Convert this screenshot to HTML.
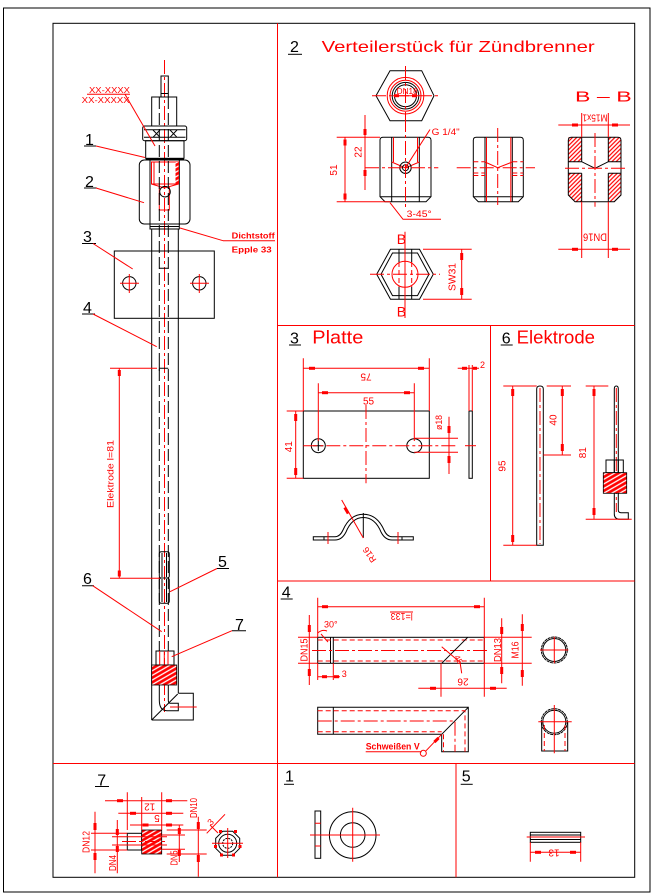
<!DOCTYPE html>
<html><head><meta charset="utf-8">
<style>
html,body{margin:0;padding:0;background:#fff;}
svg{display:block}
.k{stroke:#000;fill:none;stroke-width:1}
.r{stroke:#f00;fill:none;stroke-width:1}
.c{stroke:#f00;fill:none;stroke-width:1;stroke-dasharray:14 3 3 3}
.kd{stroke:#000;fill:none;stroke-width:1;stroke-dasharray:12 4}
.rd{stroke:#f00;fill:none;stroke-width:1;stroke-dasharray:5 3}
.a{fill:#f00;stroke:none}
text{font-family:"Liberation Sans",sans-serif;}
.t{fill:#f00}
.b{fill:#000}
</style></head><body>
<svg width="654" height="896" viewBox="0 0 654 896" xmlns="http://www.w3.org/2000/svg">
<defs>
<pattern id="h" width="4" height="4" patternUnits="userSpaceOnUse" patternTransform="rotate(60)">
<rect width="4" height="4" fill="#f00"/><line x1="1" y1="0" x2="1" y2="4" stroke="#fff" stroke-width="1.3"/>
</pattern>
<pattern id="h2" width="3" height="3" patternUnits="userSpaceOnUse" patternTransform="rotate(45)">
<rect width="3" height="3" fill="#fff"/><line x1="1" y1="0" x2="1" y2="3" stroke="#f00" stroke-width="1.2"/>
</pattern>
</defs>

<!-- frames -->
<rect x="3.5" y="8" width="646.5" height="884" class="k" stroke-width="1.3"/>
<rect x="53" y="23.3" width="581.7" height="854" class="k" stroke-width="1.3"/>
<g class="r">
<line x1="277.5" y1="23.3" x2="277.5" y2="877.3"/>
<line x1="53" y1="763.5" x2="634.7" y2="763.5"/>
<line x1="277.5" y1="325.5" x2="634.7" y2="325.5"/>
<line x1="490.5" y1="325.5" x2="490.5" y2="581"/>
<line x1="277.5" y1="581" x2="634.7" y2="581"/>
<line x1="456" y1="763.5" x2="456" y2="877.3"/>
</g>

<!-- ============ MAIN ASSEMBLY ============ -->
<line class="c" x1="164.5" y1="60" x2="164.5" y2="712"/>
<rect class="k" x="161" y="76" width="7.3" height="21"/>
<line class="k" x1="161" y1="93.5" x2="168.3" y2="93.5"/>
<rect class="k" x="151.7" y="97" width="25" height="29"/>
<rect class="k" x="142.7" y="126" width="44" height="14.7" rx="2"/>
<path class="k" d="M144 129.7 H185.5 M144 137.3 H185.5 M153 130 L160 137.3 M160 130 L153 137.3 M170 130 L177 137.3 M177 130 L170 137.3"/>
<rect class="k" x="145.7" y="140.7" width="38.3" height="17.6"/>
<rect x="145.7" y="158" width="38.3" height="2" fill="#000"/>
<rect class="k" x="139.3" y="160" width="50.7" height="64" rx="5"/>
<line class="k" x1="150" y1="160" x2="150" y2="224"/>
<line class="k" x1="179.3" y1="160" x2="179.3" y2="224"/>
<rect class="r" x="151.5" y="162" width="27" height="22"/>
<rect x="175.5" y="162" width="3" height="22" fill="url(#h)"/>
<line class="r" x1="154" y1="162" x2="154" y2="184"/>
<path class="r" d="M151.5 184 L164.5 188 L178.5 184"/>
<path class="r" d="M159.3 187 V210 H169.3 V187"/>
<circle class="k" cx="165" cy="191.7" r="5.3"/>
<rect class="k" x="150" y="224" width="29.3" height="5"/>
<line class="k" x1="150" y1="226.5" x2="179.3" y2="226.5" stroke-width="1.5"/>
<!-- tube -->
<line class="k" x1="151.7" y1="229" x2="151.7" y2="720"/>
<line class="k" x1="178.3" y1="229" x2="178.3" y2="693.3"/>
<line class="kd" x1="159.3" y1="97" x2="159.3" y2="651"/>
<line class="kd" x1="168.3" y1="97" x2="168.3" y2="651"/>
<!-- plate -->
<rect class="k" x="114.3" y="251" width="100" height="67.3"/>
<circle class="k" cx="129.3" cy="283.3" r="6.7"/>
<circle class="k" cx="199.3" cy="283.3" r="6.7"/>
<path class="r" d="M120 283.3 H139 M129.3 274 V293 M190 283.3 H209 M199.3 274 V293"/>
<path class="k" d="M159.3 268.3 H168.3 M159.3 365 V371 M159.3 368.3 H168.3"/>
<!-- part 5 -->
<rect class="k" x="159.3" y="551.7" width="10" height="26.3" rx="2"/>
<rect class="k" x="159.3" y="578" width="10" height="25.3" rx="2"/>
<path class="k" d="M162 553 V577 M166.5 553 V577 M162 579 V602 M166.5 579 V602"/>
<!-- part 7 -->
<rect class="k" x="156" y="651" width="18" height="14"/>
<path class="r" d="M159.7 651 V665 M164.3 651 V665 M168 651 V665"/>
<rect x="151.7" y="665" width="25" height="20" fill="url(#h)" stroke="#000" stroke-width="0.8"/>
<!-- bend -->
<path class="k" d="M178.3 693.3 H193.3 V720 H151.7 M151.7 720 L177.7 694"/>
<path class="k" d="M159.3 685 V700 Q159.3 710.7 167 710.7 H178.3 V703.3 H170 Q168.3 703.3 168.3 700 V685"/>
<line class="r" x1="170" y1="707" x2="196.7" y2="707"/>
<!-- Elektrode dim -->
<path class="r" d="M110 368.3 H157 M110 578.3 H160 M119.3 368.3 V578.3"/>
<rect class="a" x="117.8" y="370" width="3" height="6"/>
<rect class="a" x="117.8" y="570.5" width="3" height="6"/>
<text class="t" font-size="9.5" text-anchor="middle" textLength="68" lengthAdjust="spacingAndGlyphs" transform="translate(113.5,474) rotate(-90)">Elektrode l=81</text>
<!-- labels -->
<g class="b" font-size="16">
<text x="85" y="145">1</text>
<text x="85" y="187">2</text>
<text x="83" y="242">3</text>
<text x="83" y="313">4</text>
<text x="218" y="567">5</text>
<text x="83" y="584">6</text>
<text x="235" y="630">7</text>
</g>
<path class="k" d="M84 146 H96 M84 188 H97 M82 243.5 H96 M82 314 H95 M217 568.5 H229 M82 585.7 H94 M232 630.7 H246"/>
<g class="r">
<line x1="96" y1="146" x2="145" y2="157.5"/>
<line x1="96" y1="188" x2="144" y2="202.7"/>
<line x1="93" y1="243.5" x2="132.7" y2="269"/>
<line x1="93" y1="314" x2="156.7" y2="346.7"/>
<line x1="217" y1="568.5" x2="170" y2="591.7"/>
<line x1="92.7" y1="585.7" x2="161.7" y2="631.7"/>
<line x1="232" y1="630.7" x2="171.7" y2="656.7"/>
<line x1="125" y1="94.3" x2="155" y2="146"/>
<line x1="87" y1="94.3" x2="130" y2="94.3"/>
<line x1="223" y1="240.7" x2="275" y2="240.7"/>
<line x1="223" y1="240.7" x2="180" y2="228"/>
</g>
<text class="t" x="89" y="93" font-size="8.5" textLength="41" lengthAdjust="spacingAndGlyphs">XX-XXXX</text>
<text class="t" x="81.7" y="103" font-size="8.5" textLength="48" lengthAdjust="spacingAndGlyphs">XX-XXXXX</text>
<text class="t" x="231.7" y="238.5" font-size="8.5" font-weight="bold" textLength="43" lengthAdjust="spacingAndGlyphs">Dichtstoff</text>
<text class="t" x="231.7" y="252.5" font-size="8.5" font-weight="bold" textLength="40" lengthAdjust="spacingAndGlyphs">Epple 33</text>

<!-- ============ SECTION 2 ============ -->
<text class="b" x="290" y="52" font-size="16">2</text>
<line class="k" x1="288" y1="54.3" x2="302" y2="54.3"/>
<text class="t" x="321.7" y="52" font-size="16" textLength="273" lengthAdjust="spacingAndGlyphs">Verteilerstück für Zündbrenner</text>
<!-- top hex -->
<polygon class="k" points="390,70.7 421.7,70.7 434,95.7 421.7,120.7 390,120.7 376,95.7"/>
<circle class="r" cx="405.5" cy="95.7" r="18.3"/>
<circle class="r" cx="405.5" cy="95.7" r="15.5"/>
<circle class="k" cx="405.5" cy="95.7" r="13.3"/>
<circle class="k" cx="405.5" cy="95.7" r="11"/>
<line class="c" x1="405.5" y1="66" x2="405.5" y2="124"/>
<line class="c" x1="372" y1="95.7" x2="440" y2="95.7"/>
<line class="r" x1="393" y1="95.7" x2="418" y2="95.7"/>
<rect class="a" x="394" y="94.2" width="5" height="3"/><rect class="a" x="412" y="94.2" width="5" height="3"/>
<text class="t" x="396.7" y="94" font-size="8" textLength="21" lengthAdjust="spacingAndGlyphs">DN18</text>
<!-- front view -->
<path class="k" d="M383 137.3 H428 Q431 137.3 431 140.3 V196.7 L426 201.7 H385 L380 196.7 V140.3 Q380 137.3 383 137.3 Z M380 196.7 H431 M391.7 137.3 V201.7 M419.3 137.3 V201.7"/>
<path class="r" d="M393.5 137.3 V162 M417.5 137.3 V162 M391.7 162 L405.5 168 L419.3 162"/>
<circle class="k" cx="405.5" cy="167.7" r="5.7"/>
<circle class="k" cx="405.5" cy="167.7" r="3"/>
<line class="c" x1="365" y1="167.7" x2="438.3" y2="167.7"/>
<line class="c" x1="405.5" y1="118" x2="405.5" y2="207"/>
<line class="r" x1="405.5" y1="167.7" x2="430" y2="129.5"/>
<text class="t" x="431.7" y="135" font-size="9" textLength="28" lengthAdjust="spacingAndGlyphs">G 1/4"</text>
<path class="r" d="M336.7 137.3 H380 M336.7 201.7 H390 M345 137.3 V201.7 M365 115 V190"/>
<rect class="a" x="343.5" y="139.5" width="3" height="6"/><rect class="a" x="343.5" y="193.5" width="3" height="6"/>
<rect class="a" x="363.5" y="129" width="3" height="6"/><rect class="a" x="363.5" y="170" width="3" height="6"/>
<text class="t" font-size="10" text-anchor="middle" transform="translate(337,170) rotate(-90)">51</text>
<text class="t" font-size="10" text-anchor="middle" transform="translate(361.5,152) rotate(-90)">22</text>
<polyline class="r" points="390,202.7 403,219.3 441,219.3"/>
<text class="t" x="406.7" y="217" font-size="9" textLength="25" lengthAdjust="spacingAndGlyphs">3-45°</text>
<!-- side view -->
<path class="k" d="M476.3 137.3 H520.3 Q523.3 137.3 523.3 140.3 V196.7 L518.3 201.7 H478.3 L473.3 196.7 V140.3 Q473.3 137.3 476.3 137.3 Z M473.3 196.7 H523.3 M485 137.3 V201.7 M512.3 137.3 V201.7"/>
<path class="r" d="M486.5 137.3 V201.7 M510.8 137.3 V201.7 M485 162 L497.7 167.7 L512.3 162"/>
<path class="rd" d="M473.3 161.7 H485 M512.3 161.7 H523.3 M473.3 173 H485 M512.3 173 H523.3 M473.3 175.5 H485 M512.3 175.5 H523.3"/>
<line class="c" x1="456.7" y1="167.7" x2="535" y2="167.7"/>
<line class="c" x1="497.7" y1="128" x2="497.7" y2="205"/>
<!-- B-B -->
<text class="t" x="575" y="101.7" font-size="15" textLength="56.7" lengthAdjust="spacingAndGlyphs">B – B</text>
<rect x="568.3" y="137.3" width="13.4" height="24.4" fill="url(#h2)"/>
<rect x="608.3" y="137.3" width="12.7" height="24.4" fill="url(#h2)"/>
<polygon points="568.3,173.3 581.7,173.3 581.7,201.7 575,201.7 568.3,195" fill="url(#h2)"/>
<polygon points="608.3,173.3 621,173.3 621,195 614.3,201.7 608.3,201.7" fill="url(#h2)"/>
<path class="k" d="M571.3 137.3 H618 Q621 137.3 621 140.3 V195 L614.3 201.7 H575 L568.3 195 V140.3 Q568.3 137.3 571.3 137.3 Z"/>
<path class="k" stroke-width="1.6" d="M581.7 137.3 V161.7 M608.3 137.3 V161.7 M581.7 173.3 V201.7 M608.3 173.3 V201.7"/>
<path class="k" d="M568.3 161.7 H581.7 L595 168.3 L608.3 161.7 H621 M568.3 173.3 H581.7 M608.3 173.3 H621"/>
<line class="c" x1="595" y1="133" x2="595" y2="206.7"/>
<line class="c" x1="565" y1="168.3" x2="625" y2="168.3"/>
<path class="r" d="M558.3 125 H630 M581.7 113 V137.3 M608.3 113 V137.3 M558.3 249.3 H630 M581.7 201.7 V258 M608.3 201.7 V258"/>
<rect class="a" x="572" y="123.5" width="6" height="3"/><rect class="a" x="612" y="123.5" width="6" height="3"/>
<rect class="a" x="572" y="247.8" width="6" height="3"/><rect class="a" x="612" y="247.8" width="6" height="3"/>
<text class="t" font-size="10" text-anchor="middle" textLength="25" lengthAdjust="spacingAndGlyphs" transform="translate(595,114.5) rotate(180)">M15x1</text>
<text class="t" font-size="11" text-anchor="middle" textLength="24" lengthAdjust="spacingAndGlyphs" transform="translate(595,233.5) rotate(180)">DN16</text>
<!-- bottom hex -->
<polygon class="k" points="376.7,274.3 390.5,249.3 419.5,249.3 433.3,274.3 419.5,299.3 390.5,299.3"/>
<polygon class="k" points="381,274.3 392.5,253 417.5,253 429,274.3 417.5,295.6 392.5,295.6"/>
<circle class="r" cx="405" cy="274.3" r="13"/>
<path class="k" d="M399 249.3 V262 M411.7 249.3 V262 M399 287 V299.3 M411.7 287 V299.3"/>
<path class="rd" d="M399 262 V287 M411.7 262 V287"/>
<line class="c" x1="370" y1="274.3" x2="440" y2="274.3"/>
<line class="r" x1="405" y1="231.7" x2="405" y2="318"/>
<text class="t" x="396.7" y="244" font-size="14">B</text>
<text class="t" x="396.7" y="316.7" font-size="14">B</text>
<path class="r" d="M423 249.3 H471.7 M423 299.3 H471.7 M461.7 249.3 V299.3"/>
<rect class="a" x="460.2" y="253" width="3" height="7"/><rect class="a" x="460.2" y="288" width="3" height="7"/>
<text class="t" font-size="10" text-anchor="middle" textLength="28" lengthAdjust="spacingAndGlyphs" transform="translate(455.5,277) rotate(-90)">SW31</text>

<!-- ============ SECTION 3 ============ -->
<text class="b" x="290" y="343.5" font-size="16">3</text>
<line class="k" x1="289" y1="345" x2="301" y2="345"/>
<text class="t" x="312.3" y="343.5" font-size="18" textLength="51" lengthAdjust="spacingAndGlyphs">Platte</text>
<rect class="k" x="303.3" y="411" width="126" height="67.3"/>
<circle class="k" cx="318.3" cy="445.7" r="7"/>
<ellipse class="k" cx="414.3" cy="445.7" rx="7.5" ry="7"/>
<path class="k" d="M313 445.7 H323.5 M318.3 440 V451"/>
<line class="c" x1="303.3" y1="445.7" x2="458" y2="445.7"/>
<line class="c" x1="366" y1="405" x2="366" y2="483.3"/>
<path class="r" d="M303.3 368.3 H429.3 M303.3 358.3 V411 M429.3 358.3 V411 M318.3 392.7 H414.3 M318.3 383.3 V441 M414.3 383.3 V441"/>
<rect class="a" x="309" y="366.8" width="6" height="3"/><rect class="a" x="418" y="366.8" width="6" height="3"/>
<rect class="a" x="322" y="391.2" width="6" height="3"/><rect class="a" x="404" y="391.2" width="6" height="3"/>
<text class="t" font-size="10" text-anchor="middle" transform="translate(366,373.5) rotate(180)">75</text>
<text class="t" x="368.5" y="404.5" font-size="10" text-anchor="middle">55</text>
<path class="r" d="M286.7 411 H303.3 M286.7 478.3 H303.3 M295.7 411 V478.3"/>
<rect class="a" x="294.2" y="414" width="3" height="7"/><rect class="a" x="294.2" y="468" width="3" height="7"/>
<text class="t" font-size="10" text-anchor="middle" transform="translate(292,446.7) rotate(-90)">41</text>
<path class="r" d="M414.3 438.3 H458 M414.3 452.3 H458 M449 416.7 V474"/>
<rect class="a" x="447.5" y="426" width="3" height="7"/><rect class="a" x="447.5" y="456" width="3" height="7"/>
<text class="t" font-size="9" text-anchor="middle" textLength="15" lengthAdjust="spacingAndGlyphs" transform="translate(442,422.5) rotate(-90)">ø18</text>
<rect class="k" x="469" y="411" width="3.3" height="67.3"/>
<line class="r" x1="465" y1="445.7" x2="476" y2="445.7"/>
<path class="r" d="M469 365 V411 M472.3 365 V411 M457.7 368.3 H479"/>
<rect class="a" x="462" y="366.8" width="5" height="3"/><rect class="a" x="473" y="366.8" width="4" height="3"/>
<text class="t" x="480" y="368" font-size="9">2</text>
<!-- strap -->
<path class="k" d="M313.3 536.7 H335 Q340 536.7 343 530 Q350 514.3 363.3 514.3 Q377 514.3 384 530 Q387 536.7 392 536.7 H413.3 V540 H392 Q385 540 381 532 Q375 517.5 363.3 517.5 Q352 517.5 346 532 Q342 540 335 540 H313.3 Z"/>
<path class="k" d="M324 536.7 V540 M402 536.7 V540 M363.3 513 V538"/>
<path class="r" d="M328 532 V544 M398 532 V544"/>
<line class="r" x1="341.7" y1="500" x2="363.3" y2="538"/>
<rect class="a" x="345" y="507" width="3" height="7" transform="rotate(-30 346.5 510.5)"/>
<text class="t" font-size="9" text-anchor="middle" transform="translate(372,553) rotate(235)">R16</text>

<!-- ============ SECTION 6 ============ -->
<text class="b" x="501.7" y="343.5" font-size="16">6</text>
<line class="k" x1="500.7" y1="345" x2="512.7" y2="345"/>
<text class="t" x="516.7" y="343.5" font-size="18" textLength="78.3" lengthAdjust="spacingAndGlyphs">Elektrode</text>
<path class="k" d="M536.7 545.3 V389 Q536.7 386 540 386 Q543.3 386 543.3 389 V545.3 Z"/>
<line class="c" x1="540" y1="388" x2="540" y2="544"/>
<path class="r" d="M503.3 386 H536.7 M503.3 545.3 H536.7 M512.7 386 V545.3"/>
<rect class="a" x="511.2" y="389" width="3" height="7"/><rect class="a" x="511.2" y="535" width="3" height="7"/>
<text class="t" font-size="10" text-anchor="middle" transform="translate(505.5,466) rotate(-90)">95</text>
<path class="r" d="M546.7 386 H571 M543.3 455 H571 M562.3 386 V455"/>
<rect class="a" x="560.8" y="389" width="3" height="7"/><rect class="a" x="560.8" y="444" width="3" height="7"/>
<text class="t" font-size="10" text-anchor="middle" transform="translate(556.5,420) rotate(-90)">40</text>
<path class="k" d="M614.3 514 V389 Q614.3 386 616.3 386 Q618.3 386 618.3 389 V510 Q618.3 512.7 621 512.7 H628.3 V519.3 H620 Q614.3 519.3 614.3 514 Z"/>
<line class="c" x1="616.3" y1="388" x2="616.3" y2="512"/>
<rect class="k" x="606" y="460" width="17.3" height="12.7" fill="#fff"/>
<path class="k" d="M614.3 460 V472.7 M618.3 460 V472.7"/>
<rect x="603.3" y="472.7" width="23.4" height="20.6" fill="url(#h)" stroke="#000" stroke-width="0.8"/>
<path class="r" d="M585.7 386 H608.3 M585.7 519.3 H631.7 M594 386 V519.3"/>
<rect class="a" x="592.5" y="389" width="3" height="7"/><rect class="a" x="592.5" y="508" width="3" height="7"/>
<text class="t" font-size="10" text-anchor="middle" transform="translate(586,452.7) rotate(-90)">81</text>

<!-- ============ SECTION 4 ============ -->
<text class="b" x="281.7" y="597.5" font-size="16">4</text>
<line class="k" x1="280.7" y1="599" x2="292.7" y2="599"/>
<rect class="k" x="317.7" y="637.3" width="166.6" height="26"/>
<line class="k" x1="330.5" y1="637.3" x2="330.5" y2="663.3"/>
<line class="k" x1="333.3" y1="637.3" x2="333.3" y2="663.3"/>
<path class="rd" d="M317.7 640 H484.3 M317.7 661 H484.3"/>
<line class="c" x1="312" y1="650.5" x2="490" y2="650.5"/>
<line class="k" x1="441.7" y1="663.3" x2="467.7" y2="637.3"/>
<path class="r" d="M317.7 606.7 H484.3 M317.7 597.7 V637.3 M484.3 597.7 V696.7"/>
<rect class="a" x="322" y="605.2" width="6" height="3"/><rect class="a" x="474" y="605.2" width="6" height="3"/>
<text class="t" font-size="10" text-anchor="middle" textLength="22" lengthAdjust="spacingAndGlyphs" transform="translate(401.7,613) rotate(180)">l=133</text>
<line class="r" x1="390" y1="612" x2="413" y2="612"/>
<path class="r" d="M298 637.3 H317.7 M298 663.3 H317.7 M309.3 615 V685"/>
<rect class="a" x="307.8" y="625" width="3" height="7"/><rect class="a" x="307.8" y="669" width="3" height="7"/>
<text class="t" font-size="10" text-anchor="middle" textLength="23" lengthAdjust="spacingAndGlyphs" transform="translate(307.5,650) rotate(-90)">DN15</text>
<text class="t" x="324" y="627.5" font-size="9">30°</text>
<path class="r" d="M317.7 633 Q322 629 327 631 M321 634 L328 642"/>
<path class="r" d="M317.7 663.3 V680 M333.3 663.3 V680 M318 676.7 H340"/>
<rect class="a" x="322" y="675.2" width="5" height="3"/><rect class="a" x="334" y="675.2" width="5" height="3"/>
<text class="t" x="341.7" y="677" font-size="9">3</text>
<path class="r" d="M441.7 646.7 L460 662.3 M460 662 L461.7 673.3"/>
<text class="t" font-size="8" transform="translate(454,657) rotate(60)">45</text>
<path class="r" d="M484.3 637.3 H531.7 M484.3 663.3 H531.7 M501.7 618.3 V683.3 M522.3 614.3 V685.7"/>
<rect class="a" x="500.2" y="627" width="3" height="7"/><rect class="a" x="500.2" y="667" width="3" height="7"/>
<rect class="a" x="520.8" y="624" width="3" height="7"/><rect class="a" x="520.8" y="670" width="3" height="7"/>
<text class="t" font-size="10" text-anchor="middle" textLength="24" lengthAdjust="spacingAndGlyphs" transform="translate(501,650) rotate(-90)">DN13</text>
<text class="t" font-size="10" text-anchor="middle" textLength="17" lengthAdjust="spacingAndGlyphs" transform="translate(518.5,650) rotate(-90)">M16</text>
<path class="r" d="M418.3 688.3 H506.7 M441 663.3 V696.7"/>
<rect class="a" x="430" y="686.8" width="6" height="3"/><rect class="a" x="490" y="686.8" width="6" height="3"/>
<text class="t" font-size="10" text-anchor="middle" transform="translate(463,678.5) rotate(180)">26</text>
<circle class="k" cx="554.3" cy="650" r="13" stroke-dasharray="3 0.6"/>
<circle class="k" cx="554.3" cy="650" r="11.5"/>
<path class="r" d="M540 650 H568.3 M554.3 636.7 V663.3"/>
<!-- bent tube -->
<path class="k" d="M317.7 707.3 H468.3 V751.7 H441.7 V734.3 H317.7 Z M441.7 734.3 L468.3 707.3"/>
<line class="k" x1="333.3" y1="707.3" x2="333.3" y2="734.3" stroke-width="2"/>
<path class="rd" d="M317.7 710.7 H465 V751.7 M317.7 731.7 H441.7 M443.5 734.3 V751.7"/>
<path class="c" d="M317.7 721 H455 V751.7"/>
<text class="t" x="365.7" y="749.3" font-size="9" font-weight="bold" textLength="54" lengthAdjust="spacingAndGlyphs">Schweißen V</text>
<line class="r" x1="365.7" y1="751.7" x2="421.7" y2="751.7"/>
<circle class="r" cx="423.3" cy="753.3" r="3"/>
<line class="r" x1="425.5" y1="751.3" x2="441.7" y2="734.3"/>
<rect class="a" x="435" y="737" width="3" height="6" transform="rotate(45 436.5 740)"/>
<circle class="k" cx="554.3" cy="721.7" r="13" stroke-dasharray="3 0.6"/>
<circle class="k" cx="554.3" cy="721.7" r="11.5"/>
<path class="k" d="M541.7 721.7 V751 H567.7 V721.7"/>
<path class="rd" d="M544.3 725 V751 M565 725 V751"/>
<path class="r" d="M538.3 721.7 H571.7 M554.3 705 V753.3"/>

<!-- ============ SECTION 7 ============ -->
<text class="b" x="97.3" y="785.5" font-size="16">7</text>
<line class="k" x1="95" y1="786.5" x2="109" y2="786.5"/>
<rect class="k" x="127.3" y="833.3" width="14.4" height="16.7"/>
<rect x="141.7" y="830" width="20" height="24" fill="url(#h)" stroke="#000" stroke-width="0.8"/>
<line class="c" x1="122" y1="841.5" x2="168" y2="841.5"/>
<path class="r" d="M105 800.7 H187.3 M127.3 792.3 V830 M161.7 792.3 V830 M118.3 813.3 H183.3 M141.7 797 V830 M130 825 H183.3"/>
<rect class="a" x="117" y="799.2" width="6" height="3"/><rect class="a" x="166" y="799.2" width="6" height="3"/>
<rect class="a" x="130" y="811.8" width="6" height="3"/><rect class="a" x="166" y="811.8" width="6" height="3"/>
<rect class="a" x="142.5" y="823.5" width="6" height="3"/><rect class="a" x="166" y="823.5" width="6" height="3"/>
<text class="t" font-size="10" text-anchor="middle" transform="translate(149.7,803.5) rotate(180)">12</text>
<text class="t" font-size="10" text-anchor="middle" transform="translate(157,815) rotate(180)">5</text>
<path class="r" d="M166.7 830 H206.7 M166.7 854 H206.7 M198.3 816.7 V876.7 M161.7 835 H185 M161.7 849.3 H185 M179.3 825 V862"/>
<rect class="a" x="196.8" y="822" width="3" height="7"/><rect class="a" x="196.8" y="855" width="3" height="7"/>
<rect class="a" x="177.8" y="828" width="3" height="6"/><rect class="a" x="177.8" y="850" width="3" height="6"/>
<text class="t" font-size="10" text-anchor="middle" textLength="20" lengthAdjust="spacingAndGlyphs" transform="translate(197,808) rotate(-90)">DN10</text>
<text class="t" font-size="10" text-anchor="middle" textLength="15" lengthAdjust="spacingAndGlyphs" transform="translate(177.5,858) rotate(-90)">DN5</text>
<path class="r" d="M91 833.3 H127.3 M91 850 H127.3 M95 811.7 V873.3 M112 836.7 H167 M112 845 H167 M117.3 820 V873.3"/>
<rect class="a" x="93.5" y="823" width="3" height="7"/><rect class="a" x="93.5" y="853" width="3" height="7"/>
<rect class="a" x="115.8" y="829" width="3" height="6"/><rect class="a" x="115.8" y="846" width="3" height="6"/>
<text class="t" font-size="10" text-anchor="middle" textLength="22" lengthAdjust="spacingAndGlyphs" transform="translate(89.5,842) rotate(-90)">DN12</text>
<text class="t" font-size="10" text-anchor="middle" textLength="16" lengthAdjust="spacingAndGlyphs" transform="translate(116,863) rotate(-90)">DN4</text>
<polygon class="k" points="222.7,831.3 232.7,831.3 239.7,838.3 239.7,848.3 232.7,855.3 222.7,855.3 215.7,848.3 215.7,838.3"/>
<circle class="k" cx="227.7" cy="843.3" r="9"/>
<circle class="k" cx="227.7" cy="843.3" r="5" stroke-dasharray="2 1"/>
<path class="r" d="M212 843.3 H243 M227.7 828 V858"/>
<rect class="a" x="219" y="830" width="3" height="3"/><rect class="a" x="234" y="830" width="3" height="3"/>
<rect class="a" x="214" y="845" width="3" height="3"/><rect class="a" x="238.5" y="845" width="3" height="3"/>
<rect class="a" x="220" y="853.5" width="3" height="3"/><rect class="a" x="232" y="853.5" width="3" height="3"/>
<line class="r" x1="206.7" y1="833.3" x2="225" y2="814.3"/>
<line class="r" x1="210" y1="825" x2="218" y2="833"/>
<text class="t" font-size="9" transform="translate(211,826) rotate(-45)">3</text>

<!-- ============ SECTION 1 ============ -->
<text class="b" x="285" y="781.5" font-size="16">1</text>
<line class="k" x1="284" y1="784.3" x2="294" y2="784.3"/>
<rect class="k" x="315" y="811" width="5.7" height="47.3"/>
<path class="r" d="M315 823.3 H320.7 M315 846 H320.7"/>
<circle class="k" cx="352.7" cy="835" r="23.3"/>
<circle class="k" cx="352.7" cy="835" r="12.3"/>
<path class="r" d="M310 835 H380 M352.7 807.7 V861.7"/>

<!-- ============ SECTION 5 ============ -->
<text class="b" x="461.7" y="781.5" font-size="16">5</text>
<line class="k" x1="460.7" y1="784.3" x2="472.7" y2="784.3"/>
<rect class="k" x="530.3" y="832.3" width="50.4" height="10"/>
<path class="k" d="M530.3 835 H580.7 M530.3 839.5 H580.7"/>
<line class="r" x1="526.7" y1="837" x2="585" y2="837"/>
<path class="r" d="M530.3 842.3 V861.7 M580.7 842.3 V861.7 M530.3 852.3 H580.7"/>
<rect class="a" x="535" y="850.8" width="6" height="3"/><rect class="a" x="570" y="850.8" width="6" height="3"/>
<text class="t" font-size="10" text-anchor="middle" transform="translate(554,849.5) rotate(180)">13</text>
</svg>
</body></html>
